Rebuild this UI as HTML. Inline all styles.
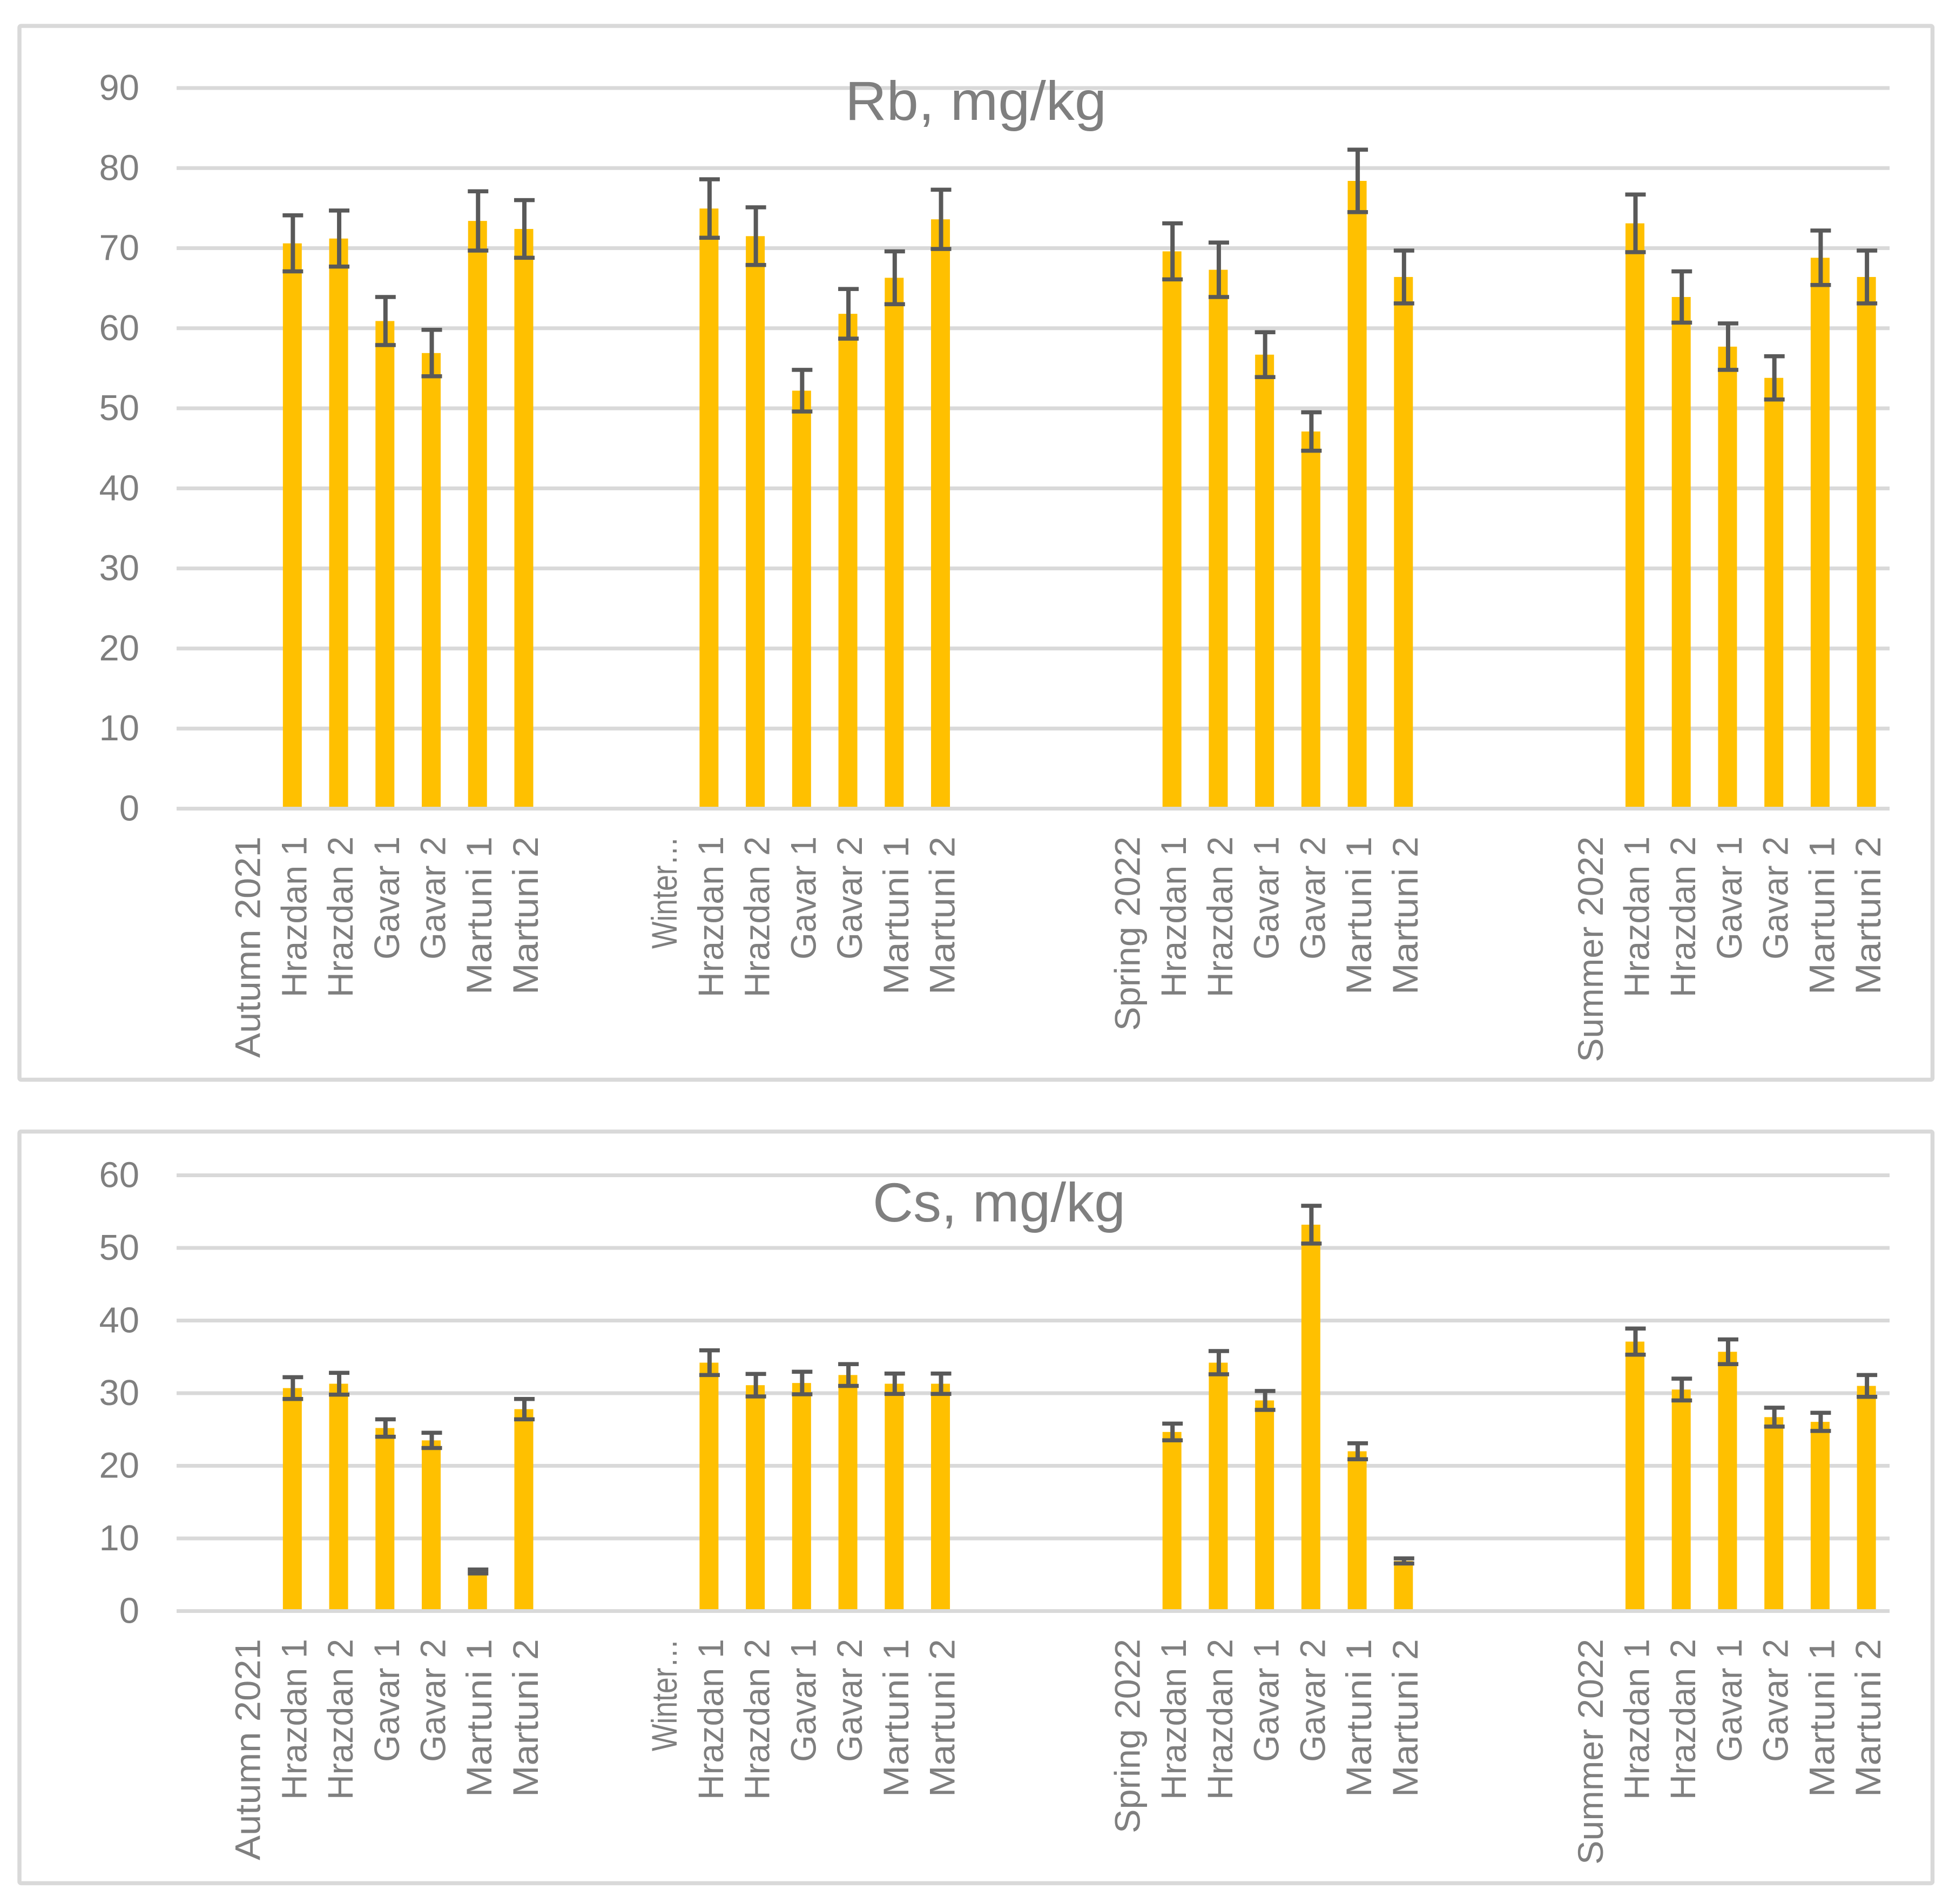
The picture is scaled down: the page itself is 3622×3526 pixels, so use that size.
<!DOCTYPE html>
<html lang="en">
<head>
<meta charset="utf-8">
<title>Rb and Cs concentrations by season and site</title>
<style>
  html, body { margin: 0; padding: 0; background: #ffffff; }
  svg { display: block; font-family: "Liberation Sans", sans-serif; }
  .tick { font-size: 67px; fill: #7f7f7f; text-anchor: end; }
  .cat { font-size: 66px; fill: #7f7f7f; text-anchor: end; }
  .title { font-size: 102px; fill: #7f7f7f; }
</style>
</head>
<body>
<svg id="figure" xmlns="http://www.w3.org/2000/svg" width="3622" height="3526" viewBox="0 0 3622 3526">
  <rect x="0" y="0" width="3622" height="3526" fill="#ffffff"/>
  <rect x="36" y="48" width="3542.5" height="1951.5" rx="3" fill="#ffffff" stroke="#d9d9d9" stroke-width="7.5"/>
  <rect x="36" y="2095.5" width="3542.5" height="1392" rx="3" fill="#ffffff" stroke="#d9d9d9" stroke-width="7.5"/>
  <g id="rb-chart"></g>
  <g id="cs-chart"></g>
  <text class="title" x="1565" y="222" textLength="484" lengthAdjust="spacingAndGlyphs">Rb, mg/kg</text>
  <text class="title" x="1616" y="2262" textLength="468" lengthAdjust="spacingAndGlyphs">Cs, mg/kg</text>
</svg>
<script>
const categories = [
  "", "Autumn 2021", "Hrazdan 1", "Hrazdan 2", "Gavar 1", "Gavar 2", "Martuni 1", "Martuni 2",
  "", "", "Winter…", "Hrazdan 1", "Hrazdan 2", "Gavar 1", "Gavar 2", "Martuni 1", "Martuni 2",
  "", "", "", "Spring 2022", "Hrazdan 1", "Hrazdan 2", "Gavar 1", "Gavar 2", "Martuni 1", "Martuni 2",
  "", "", "", "Summer 2022", "Hrazdan 1", "Hrazdan 2", "Gavar 1", "Gavar 2", "Martuni 1", "Martuni 2"
];

const rbTicks = [0, 10, 20, 30, 40, 50, 60, 70, 80, 90];
const csTicks = [0, 10, 20, 30, 40, 50, 60];

const rbValues = [
  null, null, 70.6, 71.2, 60.9, 56.9, 73.4, 72.4,
  null, null, null, 74.95, 71.5, 52.2, 61.8, 66.3, 73.6,
  null, null, null, null, 69.6, 67.3, 56.7, 47.1, 78.4, 66.4,
  null, null, null, null, 73.1, 63.9, 57.7, 53.8, 68.8, 66.4
];
const rbErrors = [
  null, null, 3.5, 3.5, 3.0, 2.9, 3.7, 3.6,
  null, null, null, 3.65, 3.6, 2.6, 3.1, 3.3, 3.7,
  null, null, null, null, 3.5, 3.4, 2.8, 2.4, 3.9, 3.3,
  null, null, null, null, 3.6, 3.2, 2.9, 2.7, 3.4, 3.3
];

const csValues = [
  null, null, 30.7, 31.3, 25.2, 23.5, 5.45, 27.8,
  null, null, null, 34.2, 31.1, 31.4, 32.5, 31.3, 31.3,
  null, null, null, null, 24.66, 34.2, 29.0, 53.2, 22.0, 6.9,
  null, null, null, null, 37.1, 30.5, 35.7, 26.7, 26.05, 31.0
];
const csErrors = [
  null, null, 1.5, 1.5, 1.2, 1.05, 0.27, 1.4,
  null, null, null, 1.7, 1.55, 1.55, 1.5, 1.4, 1.4,
  null, null, null, null, 1.15, 1.6, 1.3, 2.6, 1.1, 0.35,
  null, null, null, null, 1.8, 1.5, 1.7, 1.3, 1.25, 1.5
];

const SVG_NS = "http://www.w3.org/2000/svg";
const plotLeft = 327;
const plotRight = 3499;
const barWidth = 35;
const capWidth = 38;
const capThickness = 7.5;
const stemWidth = 8;
const gridThickness = 7;
const labelLengths = {
  "Autumn 2021": 410, "Winter…": 208, "Spring 2022": 360, "Summer 2022": 418,
  "Hrazdan 1": 298, "Hrazdan 2": 298, "Gavar 1": 228, "Gavar 2": 228,
  "Martuni 1": 293, "Martuni 2": 293
};

function xScale(index) {
  const step = (plotRight - plotLeft) / categories.length;
  return plotLeft + (index + 0.5) * step;
}

function makeYScale(ticks, pixelAtZero, pixelAtMax) {
  const maxTick = ticks[ticks.length - 1];
  return function (value) {
    return pixelAtZero - (value / maxTick) * (pixelAtZero - pixelAtMax);
  };
}

function shape(tag, parent) {
  const node = document.createElementNS(SVG_NS, tag);
  parent.appendChild(node);
  return node;
}

function setRect(node, x, y, width, height, fill) {
  node.setAttribute("x", x);
  node.setAttribute("y", y);
  node.setAttribute("width", width);
  node.setAttribute("height", height);
  node.setAttribute("fill", fill);
}

function drawChart(groupId, ticks, values, errors, pixelAtZero, pixelAtMax, labelTop) {
  const group = document.getElementById(groupId);
  const yScale = makeYScale(ticks, pixelAtZero, pixelAtMax);

  ticks.forEach(function (tick) {
    const y = yScale(tick);
    const grid = shape("rect", group);
    
    
    setRect(grid, plotLeft, y - gridThickness / 2, plotRight - plotLeft, gridThickness, "#d9d9d9");
    const label = shape("text", group);
    
    
    label.setAttribute("class", "tick");
    label.setAttribute("x", 258);
    label.setAttribute("y", y + 22);
    label.textContent = tick;
  });

  values.forEach(function (value, i) {
    if (value === null) return;
    const cx = xScale(i);
    const top = yScale(value);
    const bar = shape("rect", group);
    
    
    setRect(bar, cx - barWidth / 2, top, barWidth, pixelAtZero - gridThickness / 2 - top, "#ffc000");
  });

  values.forEach(function (value, i) {
    if (value === null) return;
    const cx = xScale(i) + 1;
    const hi = yScale(value + errors[i]);
    const lo = yScale(value - errors[i]);
    const stem = shape("rect", group);
    
    
    setRect(stem, cx - stemWidth / 2, hi, stemWidth, lo - hi, "#595959");
    const capTop = shape("rect", group);
    
    
    setRect(capTop, cx - capWidth / 2, hi - capThickness / 2, capWidth, capThickness, "#595959");
    const capBottom = shape("rect", group);
    
    
    setRect(capBottom, cx - capWidth / 2, lo - capThickness / 2, capWidth, capThickness, "#595959");
  });

  categories.forEach(function (name, i) {
    if (!name) return;
    const baseline = xScale(i) + 26;
    const label = shape("text", group);
    
    
    label.setAttribute("class", "cat");
    label.setAttribute("transform", "translate(" + baseline + "," + labelTop + ") rotate(-90)");
    label.setAttribute("x", 0);
    label.setAttribute("y", 0);
    label.setAttribute("textLength", labelLengths[name]);
    label.setAttribute("lengthAdjust", "spacingAndGlyphs");
    label.textContent = name;
  });
}

drawChart("rb-chart", rbTicks, rbValues, rbErrors, 1497.5, 163, 1549);
drawChart("cs-chart", csTicks, csValues, csErrors, 2983.5, 2176.5, 3035);
</script>
</body>
</html>
